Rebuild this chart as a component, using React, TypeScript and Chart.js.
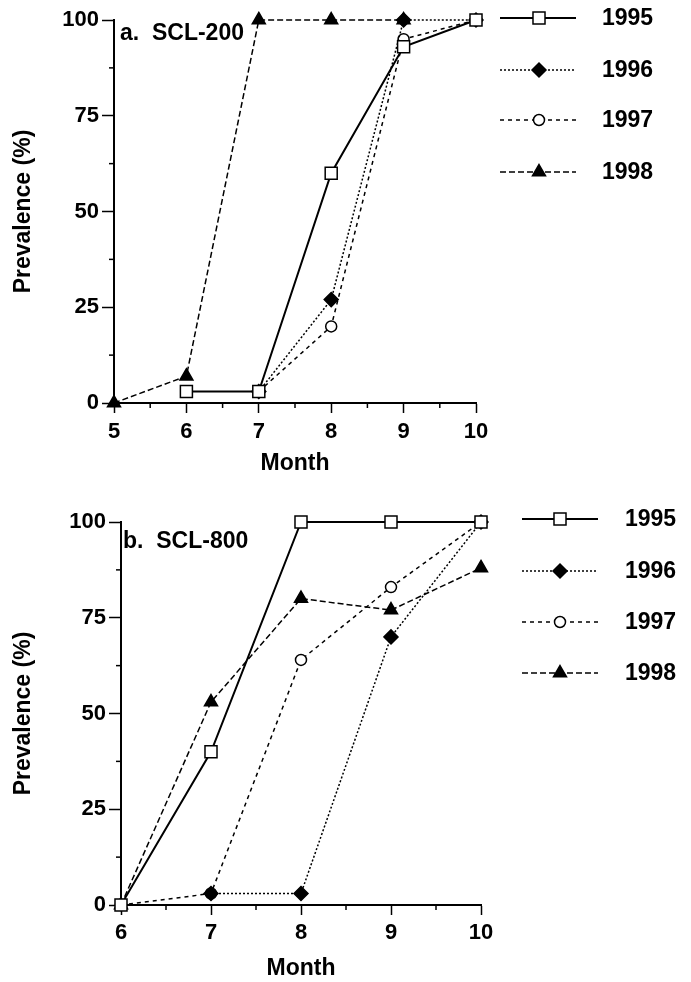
import React, { useEffect, useRef } from 'react';
import { Chart, registerables } from 'chart.js';
import { drawPoint } from 'chart.js/helpers';

Chart.register(...registerables);

// ---------- data ----------
const seriesNames = ['1995', '1996', '1997', '1998'];

const monthsA = [5, 6, 7, 8, 9, 10];
const scl200_1995 = [null, 3, 3, 60, 93, 100];
const scl200_1996 = [null, null, 3, 27, 100, 100];
const scl200_1997 = [null, null, 3, 20, 95, 100];
const scl200_1998 = [0, 7, 100, 100, 100, null];

const monthsB = [6, 7, 8, 9, 10];
const scl800_1995 = [0, 40, 100, 100, 100];
const scl800_1996 = [null, 3, 3, 70, 100];
const scl800_1997 = [0, 3, 64, 83, 100];
const scl800_1998 = [0, 53, 80, 77, 88];

const panelLabels = ['a.  SCL-200', 'b.  SCL-800'];

// ---------- styles ----------
const FONT = '"Liberation Sans", Arial, Helvetica, sans-serif';
const styles = [
  { pointStyle: 'rect', radius: 8.5, fill: '#ffffff', dash: [] as number[], width: 2 },
  { pointStyle: 'rectRot', radius: 7, fill: '#000000', dash: [2, 2], width: 1.5 },
  { pointStyle: 'circle', radius: 5.5, fill: '#ffffff', dash: [4, 4], width: 1.5 },
  { pointStyle: 'triangle', radius: 7.5, fill: '#000000', dash: [6, 3], width: 1.5 },
];

const decorPlugin = {
  id: 'decor',
  afterDraw(chart: any, _args: any, opts: any) {
    const ctx = chart.ctx;
    const xs = chart.scales.x;
    const ys = chart.scales.y;
    ctx.save();
    ctx.strokeStyle = '#000';
    ctx.lineWidth = 1.5;
    ctx.setLineDash([]);
    // minor ticks
    xs.ticks.forEach((t: any) => {
      if (t.value % 1 !== 0) {
        const px = xs.getPixelForValue(t.value);
        ctx.beginPath();
        ctx.moveTo(px, xs.top);
        ctx.lineTo(px, xs.top + 5);
        ctx.stroke();
      }
    });
    ys.ticks.forEach((t: any) => {
      if (t.value % 25 !== 0) {
        const py = ys.getPixelForValue(t.value);
        ctx.beginPath();
        ctx.moveTo(ys.right, py);
        ctx.lineTo(ys.right - 5, py);
        ctx.stroke();
      }
    });
    // panel label
    ctx.fillStyle = '#000';
    ctx.font = `bold 23px ${FONT}`;
    ctx.textAlign = 'left';
    ctx.textBaseline = 'middle';
    ctx.fillText(opts.label, chart.chartArea.left + opts.labelDx, chart.chartArea.top + opts.labelDy);
    // legend
    chart.data.datasets.forEach((ds: any, i: number) => {
      const y = opts.legendYs[i];
      const st = styles[i];
      ctx.strokeStyle = '#000';
      ctx.lineWidth = st.width;
      ctx.setLineDash(st.dash);
      ctx.beginPath();
      ctx.moveTo(opts.lineX0, y);
      ctx.lineTo(opts.lineX1, y);
      ctx.stroke();
      ctx.setLineDash([]);
      ctx.fillStyle = st.fill;
      ctx.strokeStyle = '#000';
      ctx.lineWidth = 1.5;
      drawPoint(ctx, { pointStyle: st.pointStyle, radius: st.radius, rotation: 0, borderWidth: 1.5 } as any, opts.markerX, y);
      ctx.fillStyle = '#000';
      ctx.font = `bold 23px ${FONT}`;
      ctx.textAlign = 'left';
      ctx.textBaseline = 'middle';
      ctx.fillText(ds.label, opts.textX, y + 1);
    });
    ctx.restore();
  },
};

function buildConfig(p: any) {
  const datasets = p.series.map((vals: (number | null)[], i: number) => ({
    label: seriesNames[i],
    data: p.months
      .map((m: number, j: number) => (vals[j] == null ? null : { x: m, y: vals[j] }))
      .filter((d: any) => d !== null),
    borderColor: '#000',
    backgroundColor: styles[i].fill,
    borderWidth: styles[i].width,
    borderDash: styles[i].dash,
    pointStyle: styles[i].pointStyle,
    pointRadius: styles[i].radius,
    pointHoverRadius: styles[i].radius,
    pointBorderWidth: 1.5,
    pointBackgroundColor: styles[i].fill,
    pointBorderColor: '#000',
    tension: 0,
    fill: false,
    clip: false,
  }));
  const tickFont = { family: FONT, size: 22, weight: 'bold' as const };
  const titleFont = { family: FONT, size: 23, weight: 'bold' as const };
  return {
    type: 'line' as const,
    data: { datasets },
    plugins: [decorPlugin],
    options: {
      responsive: false,
      animation: false as const,
      events: [],
      layout: { padding: { left: 0, top: p.padTop, right: p.padRight, bottom: 0 } },
      plugins: {
        legend: { display: false },
        tooltip: { enabled: false },
        decor: p.decor,
      },
      scales: {
        x: {
          type: 'linear' as const,
          min: p.xMin,
          max: p.xMax,
          ticks: {
            stepSize: 0.5,
            autoSkip: false,
            maxRotation: 0,
            padding: p.xTickPad,
            color: '#000',
            font: tickFont,
            callback: (v: any) => (Number(v) % 1 === 0 ? String(v) : ''),
          },
          grid: {
            drawOnChartArea: false,
            drawTicks: true,
            tickLength: 10,
            tickWidth: 1.5,
            tickColor: (c: any) => (c.tick && c.tick.value % 1 === 0 ? '#000' : 'rgba(0,0,0,0)'),
          },
          border: { display: true, color: '#000', width: 2 },
          title: {
            display: true,
            text: 'Month',
            color: '#000',
            font: titleFont,
            padding: { top: 0, bottom: p.xTitlePad },
          },
          afterFit: (s: any) => {
            s.height = p.xAxisHeight;
          },
        },
        y: {
          min: 0,
          max: 100,
          ticks: {
            stepSize: 12.5,
            autoSkip: false,
            padding: 3,
            color: '#000',
            font: tickFont,
            callback: (v: any) => (Number(v) % 25 === 0 ? String(v) : ''),
          },
          grid: {
            drawOnChartArea: false,
            drawTicks: true,
            tickLength: 12,
            tickWidth: 1.5,
            tickColor: (c: any) => (c.tick && c.tick.value % 25 === 0 ? '#000' : 'rgba(0,0,0,0)'),
          },
          border: { display: true, color: '#000', width: 2 },
          title: {
            display: true,
            text: 'Prevalence (%)',
            color: '#000',
            font: titleFont,
            padding: { top: 10, bottom: 0 },
          },
          afterFit: (s: any) => {
            s.width = p.yAxisWidth;
          },
        },
      },
    },
  };
}

function Panel({ top, height, cfg }: { top: number; height: number; cfg: any }) {
  const ref = useRef<HTMLCanvasElement | null>(null);
  useEffect(() => {
    const chart = new Chart(ref.current as HTMLCanvasElement, cfg);
    return () => chart.destroy();
  }, []);
  return (
    <canvas
      ref={ref}
      width={691}
      height={height}
      style={{ position: 'absolute', left: 0, top, width: 691, height }}
    />
  );
}

export default function App() {
  const cfgA = buildConfig({
    months: monthsA,
    series: [scl200_1995, scl200_1996, scl200_1997, scl200_1998],
    xMin: 5,
    xMax: 10,
    padTop: 20,
    padRight: 215,
    yAxisWidth: 114,
    xAxisHeight: 84,
    xTickPad: 6,
    xTitlePad: 10,
    decor: {
      label: panelLabels[0],
      labelDx: 6,
      labelDy: 14,
      lineX0: 500,
      lineX1: 576,
      markerX: 539,
      textX: 602,
      legendYs: [18, 70, 120, 172],
    },
  });
  const cfgB = buildConfig({
    months: monthsB,
    series: [scl800_1995, scl800_1996, scl800_1997, scl800_1998],
    xMin: 6,
    xMax: 10,
    padTop: 35,
    padRight: 210,
    yAxisWidth: 121,
    xAxisHeight: 77,
    xTickPad: 5,
    xTitlePad: 0,
    decor: {
      label: panelLabels[1],
      labelDx: 2,
      labelDy: 20,
      lineX0: 522,
      lineX1: 598,
      markerX: 560,
      textX: 625,
      legendYs: [32, 84, 135, 186],
    },
  });
  return (
    <div style={{ position: 'absolute', left: 0, top: 0, width: 691, height: 982, background: '#fff' }}>
      <Panel top={0} height={487} cfg={cfgA} />
      <Panel top={487} height={495} cfg={cfgB} />
    </div>
  );
}
